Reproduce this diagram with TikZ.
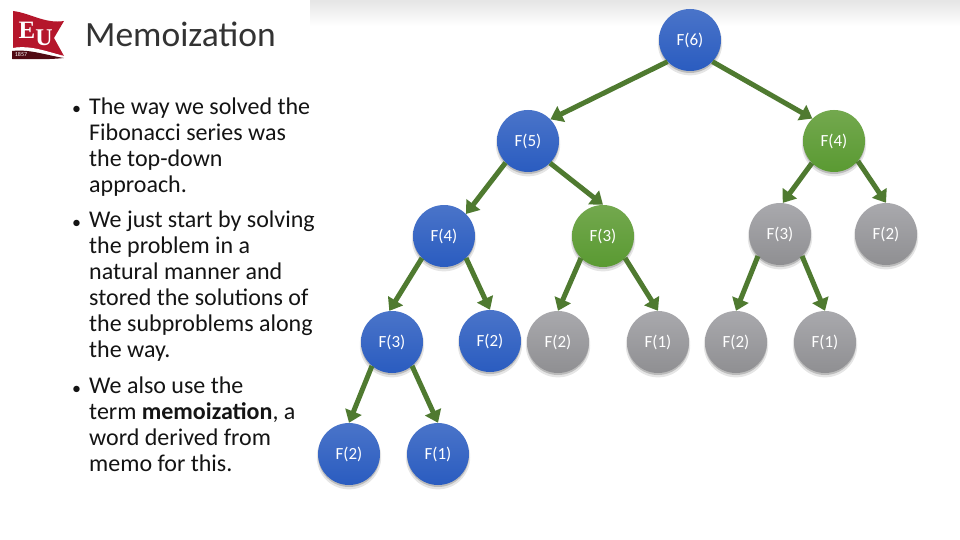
\documentclass[tikz,border=0pt]{standalone}
\usepackage{fontspec}
\setmainfont{Carlito}
\newfontfamily\logofont{Liberation Serif}
\usetikzlibrary{arrows.meta,shadows,shadings}
\definecolor{blueT}{HTML}{4A74C9}
\definecolor{blueB}{HTML}{2A5CC0}
\definecolor{greenT}{HTML}{73A84E}
\definecolor{greenB}{HTML}{5A9A32}
\definecolor{grayT}{HTML}{A9A9AD}
\definecolor{grayB}{HTML}{8F8F92}
\definecolor{arrowgreen}{HTML}{4F7A30}
\definecolor{eured}{HTML}{B5162B}
\newcommand{\lab}[1]{\raisebox{-3.5pt}{#1}}
\tikzset{
  fibnode/.style={circle,minimum size=62pt,inner sep=0pt,text=white,font=\fontsize{17}{18}\selectfont,
    drop shadow={shadow xshift=0pt,shadow yshift=-3pt,opacity=.10,shadow scale=1.04,fill=black},
    drop shadow={shadow xshift=0pt,shadow yshift=-2pt,opacity=.18,shadow scale=1.0,fill=black}},
  bluenode/.style={fibnode,top color=blueT,bottom color=blueB},
  greennode/.style={fibnode,top color=greenT,bottom color=greenB},
  graynode/.style={fibnode,top color=grayT,bottom color=grayB},
  link/.style={draw=arrowgreen,line width=5pt,-{Triangle[length=12pt,width=17pt]}},
  bodytext/.style={anchor=north west,inner sep=0pt,align=left,text=black!92,font=\fontsize{24}{26}\selectfont},
  bulletmark/.style={anchor=base west,inner sep=0pt,text=black!92,font=\fontsize{18}{26}\selectfont},
}
\begin{document}
\begin{tikzpicture}[x=1pt,y=-1pt]
\useasboundingbox (0,0) rectangle (960,540);
\fill[white] (0,0) rectangle (960,540);
\shade[top color=black!10,bottom color=white] (310,0) rectangle (960,26);
% logo
\fill[eured] (13,11) .. controls (30,13) and (45,24) .. (64,21) -- (54,38) -- (64,56)
  .. controls (45,52) and (30,46) .. (13,48) -- cycle;
\fill[white] (13,48) .. controls (30,45) and (45,51) .. (64,56) .. controls (45,54) and (30,49) .. (13,51) -- cycle;
\fill[black!55!eured] (12,51) .. controls (30,49) and (45,55) .. (64,58) .. controls (45,60) and (25,59) .. (12,59) -- cycle;
\node[inner sep=0pt,text=white] (logoE) at (27,30) {\logofont\fontsize{25}{25}\selectfont\bfseries E};
\node[inner sep=0pt,text=white] (logoU) at (44,38) {\logofont\fontsize{24}{24}\selectfont\bfseries U};
\node[inner sep=0pt,text=white] (logoY) at (21,54.5) {\fontsize{6}{6}\selectfont 1857};
% text
\node[anchor=base west,inner sep=0pt,text=black!80] (title) at (85,47) {\fontsize{35.5}{40}\selectfont Memoization};
\node[bulletmark] (b1) at (72,115) {•};
\node[bodytext] (p1) at (89,98) {The way we solved the\\Fibonacci series was\\the top-down\\approach.};
\node[bulletmark] (b2) at (72,228) {•};
\node[bodytext] (p2) at (89,211) {We just start by solving\\the problem in a\\natural manner and\\stored the solutions of\\the subproblems along\\the way.};
\node[bulletmark] (b3) at (72,394) {•};
\node[bodytext] (p3) at (89,377) {We also use the\\term \textbf{memoization}, a\\word derived from\\memo for this.};
% nodes
\node[bluenode]  (f6)  at (690,40)  {\lab{F(6)}};
\node[bluenode]  (f5)  at (528,141) {\lab{F(5)}};
\node[greennode] (f4r) at (834,141) {\lab{F(4)}};
\node[bluenode]  (f4l) at (444,236) {\lab{F(4)}};
\node[greennode] (f3g) at (603,236) {\lab{F(3)}};
\node[graynode]  (f3r) at (780,234) {\lab{F(3)}};
\node[graynode]  (f2r) at (886,234) {\lab{F(2)}};
\node[bluenode]  (f3l) at (392,342) {\lab{F(3)}};
\node[bluenode]  (f2b) at (490,341) {\lab{F(2)}};
\node[graynode]  (f2c) at (558,342) {\lab{F(2)}};
\node[graynode]  (f1c) at (658,342) {\lab{F(1)}};
\node[graynode]  (f2d) at (736,342) {\lab{F(2)}};
\node[graynode]  (f1d) at (825,342) {\lab{F(1)}};
\node[bluenode]  (f2e) at (349,454) {\lab{F(2)}};
\node[bluenode]  (f1e) at (438,454) {\lab{F(1)}};
% links
\draw[link] (f6.224) -- (f5.44);
\draw[link] (f6.316) -- (f4r.134);
\draw[link] (f5.224) -- (f4l.45);
\draw[link] (f5.315) -- (f3g.90);
\draw[link] (f4r.225) -- (f3r.85);
\draw[link] (f4r.320) -- (f2r.90);
\draw[link] (f4l.225) -- (f3l.95);
\draw[link] (f4l.315) -- (f2b.90);
\draw[link] (f3g.225) -- (f2c.90);
\draw[link] (f3g.315) -- (f1c.90);
\draw[link] (f3r.225) -- (f2d.90);
\draw[link] (f3r.315) -- (f1d.90);
\draw[link] (f3l.230) -- (f2e.90);
\draw[link] (f3l.310) -- (f1e.90);
\end{tikzpicture}
\end{document}
